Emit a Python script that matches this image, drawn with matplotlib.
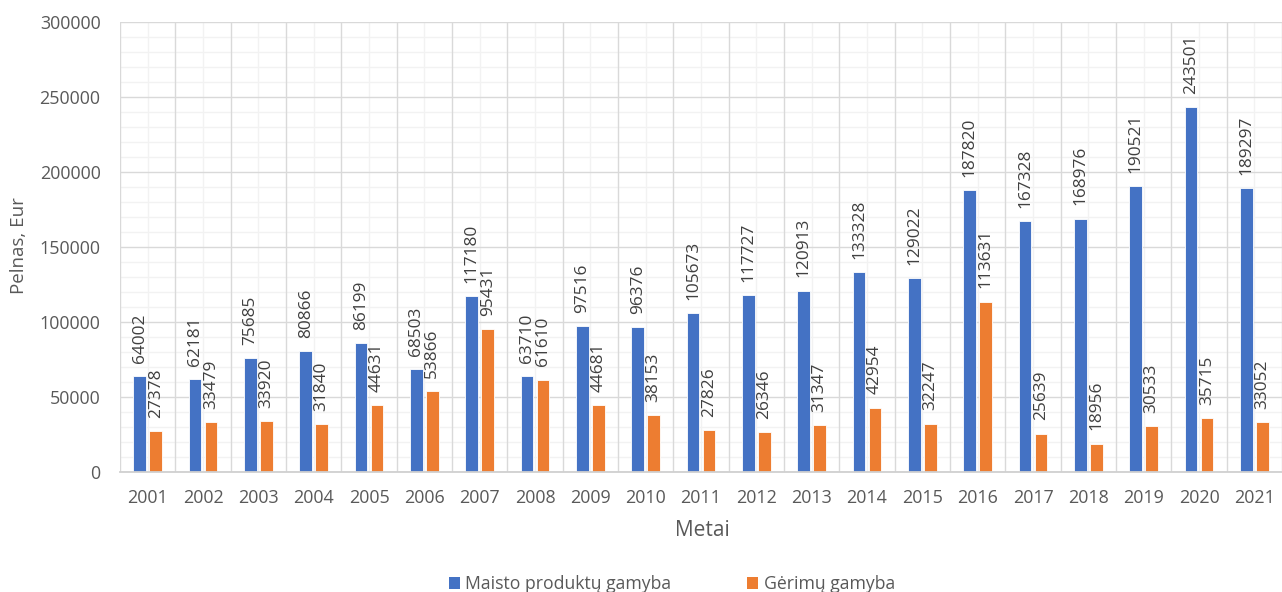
import matplotlib
matplotlib.use("Agg")
import matplotlib.pyplot as plt
import numpy as np
from matplotlib.ticker import MultipleLocator
from matplotlib.patches import Patch

years = ["2001", "2002", "2003", "2004", "2005", "2006", "2007", "2008", "2009", "2010", "2011",
         "2012", "2013", "2014", "2015", "2016", "2017", "2018", "2019", "2020", "2021"]
maisto = [64002, 62181, 75685, 80866, 86199, 68503, 117180, 63710, 97516, 96376, 105673,
          117727, 120913, 133328, 129022, 187820, 167328, 168976, 190521, 243501, 189297]
gerimu = [27378, 33479, 33920, 31840, 44631, 53866, 95431, 61610, 44681, 38153, 27826,
          26346, 31347, 42954, 32247, 113631, 25639, 18956, 30533, 35715, 33052]
series_names = ["Maisto produktų gamyba", "Gėrimų gamyba"]

plt.rcParams['font.family'] = ['Open Sans', 'DejaVu Sans']
txt = '#595959'
blue = '#4472C4'
orange = '#ED7D31'

fig = plt.figure(figsize=(12.82, 5.92), dpi=100)
ax = fig.add_axes([120/1282, 120/592, 1162/1282, 450/592])

x = np.arange(len(years))
w = 0.225
off = 0.145
b1 = ax.bar(x - off, maisto, w, color=blue, edgecolor='white', linewidth=0.6, zorder=3)
b2 = ax.bar(x + off, gerimu, w, color=orange, edgecolor='white', linewidth=0.6, zorder=3)

for bars in (b1, b2):
    for r in bars:
        h = r.get_height()
        ax.annotate(f"{int(h)}", (r.get_x() + r.get_width()/2, h), xytext=(0, 9.5),
                    textcoords='offset points', rotation=90, ha='center', va='bottom',
                    fontsize=12.4, color='#404040', zorder=5)

ax.set_xlim(-0.5, len(years) - 0.5)
ax.set_ylim(0, 300000)
ax.yaxis.set_major_locator(MultipleLocator(50000))
ax.set_xticks(x)
ax.set_xticklabels(years)

ax.grid(False)
for v in np.arange(0, 300001, 10000):
    major = (v % 50000 == 0)
    ax.axhline(v, color='#D9D9D9' if major else '#F2F2F2', linewidth=1.0, zorder=1 if major else 0)
for v in np.arange(-0.5, len(years), 1.0):
    ax.axvline(v, color='#D9D9D9', linewidth=1.0, zorder=1)
for v in x:
    ax.axvline(v, color='#F2F2F2', linewidth=1.0, zorder=0)

for s in ['top', 'right', 'left']:
    ax.spines[s].set_visible(False)
ax.spines['bottom'].set_color('#D0D0D0')
ax.spines['bottom'].set_linewidth(1.3)
ax.spines['bottom'].set_zorder(4)

ax.tick_params(axis='both', which='both', length=0, colors=txt, labelsize=12.9)
ax.tick_params(axis='x', pad=12)
ax.tick_params(axis='y', pad=14)

fig.text(702/1282, 1 - 531/592, "Metai", ha='center', va='center', fontsize=15, color=txt)
fig.text(19/1282, 1 - 246/592, "Pelnas, Eur", rotation=90, ha='center', va='center',
         fontsize=13.5, color=txt)

handles = [Patch(facecolor=blue, label=series_names[0]), Patch(facecolor=orange, label=series_names[1])]
leg = fig.legend(handles=handles, loc='center', bbox_to_anchor=(672/1282, 1 - 584/592), ncol=2,
                 frameon=False, fontsize=12.7, handlelength=0.63, handleheight=0.63,
                 handletextpad=0.3, columnspacing=4.3, borderpad=0, borderaxespad=0)
for t in leg.get_texts():
    t.set_color(txt)

fig.savefig("out.png", dpi=100, facecolor='white')
